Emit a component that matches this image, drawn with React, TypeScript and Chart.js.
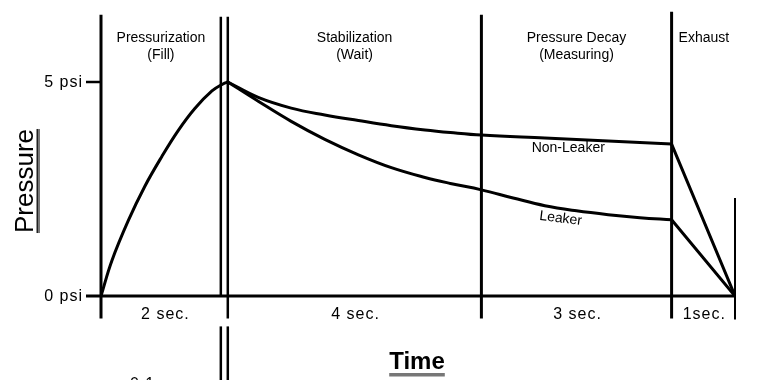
import { useEffect, useRef } from "react";
import { Chart, registerables } from "chart.js";

Chart.register(...registerables);

// ---- data (time in seconds, pressure in psi) ----
const fillTime = [0, 0.17, 0.43, 0.69, 0.96, 1.22, 1.48, 1.75, 1.93, 2.0];
const fillPressure = [0, 0.82, 1.76, 2.56, 3.26, 3.87, 4.38, 4.79, 4.96, 5.0];

const nonLeakerTime = [2, 2.48, 3.0, 3.53, 4.06, 4.58, 5.11, 5.51, 6.0, 7.0, 8.0, 9.0];
const nonLeakerPressure = [5, 4.64, 4.39, 4.23, 4.1, 3.98, 3.88, 3.82, 3.76, 3.69, 3.62, 3.55];

const leakerTime = [2, 2.48, 3.0, 3.53, 4.06, 4.58, 5.11, 5.51, 6.0, 6.5, 7.0, 7.5, 8.0, 8.5, 9.0];
const leakerPressure = [5, 4.55, 4.08, 3.66, 3.3, 3.0, 2.77, 2.63, 2.48, 2.29, 2.11, 1.99, 1.9, 1.83, 1.78];

const exhaustTime = [9, 10];
const nonLeakerExhaust = [3.55, 0];
const leakerExhaust = [1.78, 0];

const phaseNames = [["Pressurization", "(Fill)"], ["Stabilization", "(Wait)"], ["Pressure Decay", "(Measuring)"], ["Exhaust"]];
const phaseStart = [0, 2, 6, 9];
const phaseEnd = [2, 6, 9, 10];
const durationLabels = ["2 sec.", "4 sec.", "3 sec.", "1sec."];
const fillDividerTime = 1.89;

const yTickValues = [0, 5];
const yTickLabels = ["0 psi", "5 psi"];

const curveLabels = ["Non-Leaker", "Leaker"];
const curveLabelTime = [7.37, 7.25];
const curveLabelPressure = [3.45, 1.81];

const yTitle = "Pressure";
const xTitle = "Time";
const subNote = "0.1 sec.";

// ---- styling ----
const FONT = '"Liberation Sans", Arial, Helvetica, sans-serif';

function pts(xs: number[], ys: number[]) {
  return xs.map((x, i) => ({ x, y: ys[i] }));
}

const diagramPlugin = {
  id: "diagram",
  beforeDatasetsDraw(chart: any) {
    const ctx = chart.ctx as CanvasRenderingContext2D;
    const xs = chart.scales.x;
    const ys = chart.scales.y;
    const X = (t: number) => xs.getPixelForValue(t);
    const Y = (p: number) => ys.getPixelForValue(p);
    const top = chart.chartArea.top;
    const bottom = chart.chartArea.bottom;
    ctx.save();
    ctx.strokeStyle = "#000";
    ctx.lineCap = "butt";
    const vline = (x: number, y1: number, y2: number, w: number) => {
      ctx.lineWidth = w;
      ctx.beginPath();
      ctx.moveTo(x, y1);
      ctx.lineTo(x, y2);
      ctx.stroke();
    };
    // y axis
    vline(X(0), top - 3, bottom + 1, 3);
    // fill divider double line
    vline(X(fillDividerTime), top - 1, Y(0), 2.5);
    vline(X(phaseStart[1]), top - 1, bottom + 1, 2.5);
    // phase dividers
    vline(X(phaseStart[2]), top - 3, bottom + 1, 3);
    vline(X(phaseStart[3]), top - 6, bottom + 1, 3);
    // end line
    vline(X(phaseEnd[3]), Y(2.29), bottom + 2, 2);
    // break marker below
    vline(X(fillDividerTime), bottom + 9, chart.height + 2, 2.5);
    vline(X(phaseStart[1]), bottom + 9, chart.height + 2, 2.5);
    // baseline
    ctx.lineWidth = 3;
    ctx.beginPath();
    ctx.moveTo(X(0) - 15, Y(0));
    ctx.lineTo(X(phaseEnd[3]), Y(0));
    ctx.stroke();
    // 5 psi tick
    ctx.lineWidth = 2.5;
    ctx.beginPath();
    ctx.moveTo(X(0) - 15, Y(5));
    ctx.lineTo(X(0), Y(5));
    ctx.stroke();
    ctx.restore();
  },
  afterDatasetsDraw(chart: any) {
    const ctx = chart.ctx as CanvasRenderingContext2D;
    const xs = chart.scales.x;
    const ys = chart.scales.y;
    const X = (t: number) => xs.getPixelForValue(t);
    const Y = (p: number) => ys.getPixelForValue(p);
    ctx.save();
    ctx.fillStyle = "#000";
    (ctx as any).letterSpacing = "0px";
    // phase names
    ctx.font = `14px ${FONT}`;
    ctx.textBaseline = "middle";
    phaseNames.forEach((lines, i) => {
      let cx: number;
      if (i === 0) {
        ctx.textAlign = "center";
        cx = X((phaseStart[0] + fillDividerTime) / 2);
      } else if (i === phaseNames.length - 1) {
        ctx.textAlign = "left";
        cx = X(phaseStart[i]) + 7;
      } else {
        ctx.textAlign = "center";
        cx = X((phaseStart[i] + phaseEnd[i]) / 2);
      }
      lines.forEach((s, j) => ctx.fillText(s, cx, Y(6.03) + j * 17));
    });
    // curve labels
    ctx.textAlign = "center";
    ctx.fillText(curveLabels[0], X(curveLabelTime[0]), Y(curveLabelPressure[0]));
    ctx.save();
    ctx.translate(X(curveLabelTime[1]), Y(curveLabelPressure[1]));
    ctx.rotate((7 * Math.PI) / 180);
    ctx.fillText(curveLabels[1], 0, 0);
    ctx.restore();
    // durations and psi ticks
    ctx.font = `16px ${FONT}`;
    (ctx as any).letterSpacing = "1px";
    ctx.textAlign = "center";
    durationLabels.forEach((s, i) => {
      ctx.fillText(s, X((phaseStart[i] + phaseEnd[i]) / 2) + 1, Y(-0.4) + 1);
    });
    ctx.textAlign = "right";
    yTickValues.forEach((v, i) => {
      ctx.fillText(yTickLabels[i], X(0) - 18, Y(v) + 1);
    });
    ctx.textAlign = "left";
    ctx.textBaseline = "alphabetic";
    ctx.fillText(subNote, 130, chart.height + 9);
    (ctx as any).letterSpacing = "0px";
    // y title
    ctx.save();
    ctx.translate(33, 181);
    ctx.rotate(-Math.PI / 2);
    ctx.font = `26px ${FONT}`;
    ctx.textAlign = "center";
    ctx.textBaseline = "alphabetic";
    ctx.fillText(yTitle, 0, 0);
    const w = ctx.measureText(yTitle).width;
    ctx.fillStyle = "#222";
    ctx.fillRect(-w / 2, 3.5, w, 1.5);
    ctx.fillStyle = "#777";
    ctx.fillRect(-w / 2, 5, w, 2);
    ctx.restore();
    // x title
    ctx.font = `bold 24px ${FONT}`;
    ctx.textAlign = "center";
    ctx.textBaseline = "alphabetic";
    ctx.fillText(xTitle, 417, 369);
    const tw = ctx.measureText(xTitle).width;
    ctx.fillStyle = "#777";
    ctx.fillRect(417 - tw / 2, 373, tw, 3.5);
    ctx.restore();
  },
};

export default function App() {
  const ref = useRef<HTMLCanvasElement | null>(null);
  useEffect(() => {
    if (!ref.current) return;
    const line = (data: { x: number; y: number }[], tension: number) => ({
      data,
      borderColor: "#000",
      borderWidth: 3,
      pointRadius: 0,
      fill: false,
      borderCapStyle: "round" as const,
      borderJoinStyle: "round" as const,
      tension,
    });
    const chart = new Chart(ref.current, {
      type: "line",
      data: {
        datasets: [
          line(pts(fillTime, fillPressure), 0.4),
          line(pts(nonLeakerTime, nonLeakerPressure), 0.4),
          line(pts(leakerTime, leakerPressure), 0.4),
          line(pts(exhaustTime, nonLeakerExhaust), 0),
          line(pts(exhaustTime, leakerExhaust), 0),
        ],
      },
      options: {
        animation: false,
        responsive: true,
        maintainAspectRatio: false,
        devicePixelRatio: 1,
        events: [],
        layout: { padding: { left: 101, right: 31, top: 17.8, bottom: 62.6 } },
        scales: {
          x: { type: "linear", min: 0, max: 10, display: false },
          y: { type: "linear", min: -0.5, max: 6.5, display: false },
        },
        plugins: { legend: { display: false }, tooltip: { enabled: false } },
      },
      plugins: [diagramPlugin],
    });
    return () => chart.destroy();
  }, []);
  return (
    <div style={{ position: "fixed", left: 0, top: 0, width: 766, height: 380, background: "#fff" }}>
      <canvas ref={ref} />
    </div>
  );
}
